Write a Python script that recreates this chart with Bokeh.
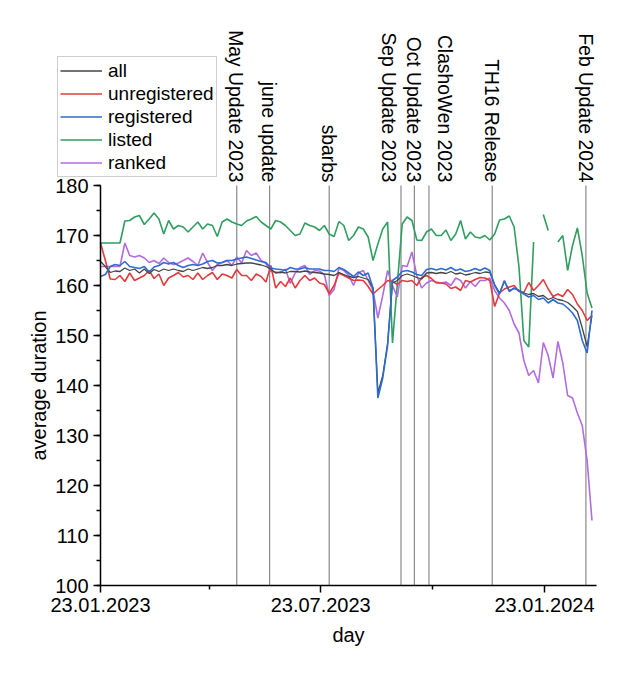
import math
import pandas as pd
from bokeh.plotting import figure
from bokeh.core.properties import value
from bokeh.models import (ColumnDataSource, Legend, LegendItem, LabelSet, FixedTicker,
                          SingleIntervalTicker, DatetimeTickFormatter, Range1d)
from bokeh.embed import file_html
from bokeh.resources import INLINE

NaN = float("nan")
start_day = "2023-01-23"
end_day = "2024-03-06"
# sampling days (offset from 23.01.2023)
day_offsets = list(range(0, 405, 4))

all_vals = [164.8, 163.8, 162.6, 162.9, 162.8, 163.5, 163, 163.3, 162.5, 163.3, 162.4, 163.2, 162.8, 163.3,
            163, 163.3, 163, 162.8, 163.3, 163, 163.3, 163.6, 163.4, 163.6, 164, 164, 164.2,
            164, 164.3, 164.4, 164.5, 164.5, 164.3, 164.1, 163.8, 163.3, 162.5, 162.7, 162.5, 162.8,
            162.8, 162.7, 162.9, 162.7, 162.6, 162.5, 162.3, 162.2, 162, 162.6, 162.2, 161.8, 161.6,
            161.8, 161.5, 161.2, 159.5, 138.5, 142, 148.5, 160.5, 161, 162, 162.3, 162, 161.6,
            161.3, 162.5, 162.6, 162.4, 162.6, 162.4, 162.8, 162.3, 162.5, 162.1, 162.3, 162.6, 162.4,
            162.7, 162.6, 160.2, 158.5, 160.8, 159, 159.4, 159, 158.5, 158.2, 158.4, 157.8, 158,
            157.2, 157.6, 157.2, 157, 156.6, 155.8, 154.8, 151.5, 147.8, 154]

unregistered = [168.5, 165, 161.3, 161.2, 162, 160.8, 162.5, 161, 161.5, 162, 163, 161.4, 162.3, 160,
                161.5, 162, 162.6, 161.7, 162, 161.2, 162.5, 161.2, 162, 162.6, 161.2, 162.3, 162,
                161.5, 163.2, 162, 162, 161, 162.3, 161.8, 160.7, 164, 159.5, 160.8, 159.8, 161.5,
                159.5, 161, 162, 161, 161.5, 160.5, 160.2, 158.4, 160, 162.5, 162, 161.5, 161,
                161.1, 161, 159.8, 158.3, 159.2, 160, 161, 160.8, 160.2, 161, 160.8, 161, 160,
                161.6, 162, 161.4, 160.5, 160.5, 160.3, 159.4, 159.7, 159, 161, 160.7, 161.2, 161.6,
                161.5, 161, 155.8, 158.5, 159.3, 159.7, 160, 158.8, 158.6, 160.6, 159, 160, 161.2,
                159.3, 157.8, 158.3, 157.8, 159.2, 158.2, 156.3, 155, 153, 154]

registered = [161.8, 162.2, 163.8, 164.2, 164, 164.8, 163.8, 163.6, 163.4, 163.8, 162.7, 163.7, 164, 164.6,
              164.3, 164.6, 164, 163.6, 164, 164.2, 164, 164.3, 164.8, 165, 164.5, 164.6, 165,
              165, 165.3, 165.5, 165.7, 165.4, 165.1, 164.8, 164.6, 163.5, 163.3, 163.2, 163, 163.6,
              163.3, 163.3, 163.6, 163.3, 163.3, 163.3, 163, 163, 162.8, 163.6, 163.2, 162.5, 161.8,
              162.7, 162, 162.5, 159.5, 137.5, 141.5, 148, 161, 161.7, 162.8, 163, 162.7, 162.2,
              162, 163.2, 163.4, 163.1, 163.4, 163.1, 163.6, 163, 163.3, 162.8, 163, 163.4, 163,
              163.5, 163, 160, 158.3, 161, 158.8, 159.5, 159, 158.3, 157.7, 158, 157.2, 157.5,
              156.5, 157.2, 156.5, 156.3, 155.5, 154.5, 153, 149, 146.5, 155]

listed = [168.5, 168.5, 168.5, 168.5, 168.5, 172.9, 173, 173.7, 174, 172.2, 173.3, 174.5, 173.3, 170.3,
          173, 171.3, 172, 171.7, 170.7, 171.7, 172.7, 171.3, 172.3, 172, 169.8, 172.7, 173.3,
          172.7, 172.3, 172, 172.9, 173.3, 173.8, 172.7, 172, 171.3, 173, 172.7, 172, 171,
          170, 170.3, 172.5, 172, 171.7, 171, 172, 170.3, 169.8, 172.8, 172, 169, 170,
          171.7, 171.3, 169.7, 165, 168.3, 171.3, 172.7, 148.5, 160.3, 172.3, 173.7, 173, 169.1,
          169, 170.7, 171.3, 170, 170, 171.1, 169, 170.3, 173, 169.3, 170.7, 169.7, 169.5,
          170, 169.1, 170.3, 173.1, 173.3, 173.9, 171.7, 163.7, 149, 147.7, 168.7, NaN, 174.2,
          171, NaN, 168.7, 170, 163, 168, 171.5, 166, 158.5, 155.5]

ranked = [163.8, 163.8, 163.8, 163.8, 163.8, 168.5, 166, 165.7, 166, 165.5, 164.6, 165, 164.4, 165.5,
          164.6, 164.2, 164.5, 165, 165.5, 164.8, 164, 166.5, 164.6, 163, 164.2, 164.6, 165,
          164, 165.7, 164.5, 167, 166, 166.5, 165, 164.4, 162.8, 162.7, 162.5, 163.3, 160.4,
          162.5, 163.6, 164, 162.2, 163, 162.9, 162.2, 158, 159.2, 163.5, 163, 162, 160,
          162.5, 163, 161, 159, 153.5, 158, 163, 160, 157.7, 164, 163.8, 166.7, 162,
          159.5, 160.5, 161, 160.7, 160.5, 160.7, 160, 161.5, 161, 159.5, 160.8, 159.8, 161,
          161, 161.5, 159, 157.5, 156.5, 155, 152.3, 150.5, 145, 142, 143, 140.5, 148.6,
          146, 141.5, 148.8, 144.5, 138, 137.5, 134.5, 132, 125, 113]

event_days = ["2023-05-15", "2023-06-11", "2023-07-30", "2023-09-27",
              "2023-10-08", "2023-10-20", "2023-12-11", "2024-02-26"]
event_names = ["May Update 2023", "june update", "sbarbs", "Sep Update 2023",
               "Oct Update 2023", "ClashoWen 2023", "TH16 Release", "Feb Update 2024"]
# labels nudged apart where the lines are close (screen px)
event_label_dx = [-1, -1, -1, -12, -1, 16, -1, 0]

x_major = ["2023-01-23", "2023-07-23", "2024-01-23"]
x_minor = ["2023-04-23", "2023-10-23"]
y_min, y_max = 100, 180

start = pd.Timestamp(start_day)
end = pd.Timestamp(end_day)
dates = [start + pd.Timedelta(days=d) for d in day_offsets]

def ms(t):
    return pd.Timestamp(t).value // 10**6

FONT = "Liberation Sans"

# The frame covers nearly the whole canvas so that the legend and the event labels are not
# clipped; the axes are pinned to the data area with fixed_location / bounds.
p = figure(width=610, height=664, x_axis_type="datetime", output_backend="svg",
           toolbar_location=None,
           x_range=Range1d(start - pd.Timedelta(days=78.1), start + pd.Timedelta(days=411.0)),
           y_range=Range1d(85.2, 215),
           min_border_left=5, min_border_right=10, min_border_top=10, min_border_bottom=5)
p.outline_line_color = None
p.grid.visible = False
p.background_fill_color = "white"
p.border_fill_color = "white"

# event lines
ev_src = ColumnDataSource(dict(x=[pd.Timestamp(d) for d in event_days],
                               y0=[y_min] * len(event_days), y1=[y_max] * len(event_days),
                               name=event_names, dx=event_label_dx))
p.segment(x0="x", y0="y0", x1="x", y1="y1", source=ev_src, line_color="#8a8a8a", line_width=1.2)
labels = LabelSet(x="x", y="y1", text="name", source=ev_src, angle=-math.pi / 2,
                  text_align="right", text_baseline="middle", y_offset=3, x_offset="dx",
                  text_font=value(FONT), text_font_size=value("19.3px"), text_color="black")
p.add_layout(labels)

src = ColumnDataSource(dict(x=dates, all=all_vals, unreg=unregistered, reg=registered,
                            listed=listed, ranked=ranked))
series = [("all", "all", "#444444", 1.3),
          ("unregistered", "unreg", "#e5393b", 1.6),
          ("registered", "reg", "#2d6cd0", 1.6),
          ("listed", "listed", "#2f9e5f", 1.6),
          ("ranked", "ranked", "#b36be0", 1.6)]
renderers = {}
for label, col, color, lw in series:
    renderers[label] = p.line("x", col, source=src, line_color=color, line_width=lw)
for label in ["listed", "ranked", "unregistered", "all", "registered"]:
    r = renderers[label]
    p.renderers.remove(r)
    p.renderers.append(r)

legend = Legend(items=[LegendItem(label=s[0], renderers=[renderers[s[0]]]) for s in series],
                location=(52, 482), orientation="vertical",
                glyph_width=42, glyph_height=23, label_height=23, spacing=0, padding=2,
                margin=0, label_standoff=6,
                label_text_font=FONT, label_text_font_size="19px", label_text_color="black",
                border_line_color="#a0a0a0", border_line_width=1,
                background_fill_color="white", background_fill_alpha=1.0)
p.add_layout(legend)

fmt = "%d.%m.%Y"
xa = p.xaxis[0]
xa.ticker = FixedTicker(ticks=[ms(t) for t in x_major], minor_ticks=[ms(t) for t in x_minor])
xa.formatter = DatetimeTickFormatter(microseconds=fmt, milliseconds=fmt, seconds=fmt, minsec=fmt,
                                     minutes=fmt, hourmin=fmt, hours=fmt, days=fmt, months=fmt,
                                     years=fmt)
xa.axis_label = "day"
xa.bounds = (ms(start), ms(end))
xa.fixed_location = y_min

ya = p.yaxis[0]
ya.ticker = SingleIntervalTicker(interval=10, num_minor_ticks=2)
ya.axis_label = "average duration"
ya.bounds = (y_min, y_max)
ya.fixed_location = ms(start)

for ax in (xa, ya):
    ax.axis_line_color = "black"
    ax.axis_line_width = 1.5
    ax.major_tick_line_color = "black"
    ax.major_tick_line_width = 1.5
    ax.minor_tick_line_color = "black"
    ax.minor_tick_line_width = 1.5
    ax.major_tick_in = 0
    ax.major_tick_out = 7
    ax.minor_tick_in = 0
    ax.minor_tick_out = 4
    ax.major_label_text_font = FONT
    ax.major_label_text_font_size = "20px"
    ax.major_label_text_color = "black"
    ax.axis_label_text_font = FONT
    ax.axis_label_text_font_size = "20px"
    ax.axis_label_text_font_style = "normal"
    ax.axis_label_text_color = "black"
xa.major_label_standoff = 5
xa.axis_label_standoff = 9
ya.major_label_standoff = 5
ya.axis_label_standoff = 2

open("out.html", "w").write(file_html(p, INLINE))
